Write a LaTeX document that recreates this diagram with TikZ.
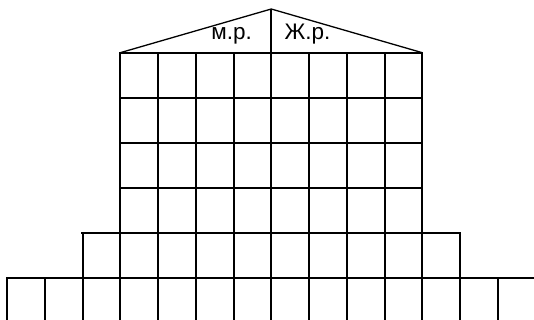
\documentclass[tikz,border=0pt]{standalone}
\usepackage{fontspec}
\setmainfont{Liberation Sans}
\begin{document}
\begin{tikzpicture}[x=1pt,y=-1pt,
  gridline/.style={line width=2pt,line cap=rect},
  roofline/.style={line width=1.3pt},
  lbl/.style={font=\fontsize{22.5}{26}\selectfont,anchor=base,inner sep=0pt}]
\useasboundingbox (0,0) rectangle (534,320);
\begin{scope}
\clip (0,0) rectangle (534,320);
% top tier horizontals
\foreach \y in {52.7,97.7,142.7,187.7}
  \draw[gridline] (120.25,\y) -- (422.25,\y);
\draw[gridline] (82,232.7) -- (460,232.7);
\draw[gridline] (7,277.7) -- (540,277.7);
% verticals
\foreach \i in {3,...,11}
  \draw[gridline] ({7+37.75*\i},52.7) -- ({7+37.75*\i},325);
\foreach \i in {2,12}
  \draw[gridline] ({7+37.75*\i},232.7) -- ({7+37.75*\i},325);
\foreach \i in {0,1,13}
  \draw[gridline] ({7+37.75*\i},277.7) -- ({7+37.75*\i},325);
\end{scope}
% roof
\coordinate (apex) at (271.25,9);
\coordinate (rl) at (120.25,52.7);
\coordinate (rr) at (422.25,52.7);
\coordinate (rc) at (271.25,52.7);
\draw[roofline] (rl) -- (apex) -- (rr);
\draw[line width=1.8pt] (apex) -- (rc);
\node[lbl] (mr) at (231.7,40) {м.р.};
\node[lbl] (zr) at (307.5,40) {Ж.р.};
\end{tikzpicture}
\end{document}
